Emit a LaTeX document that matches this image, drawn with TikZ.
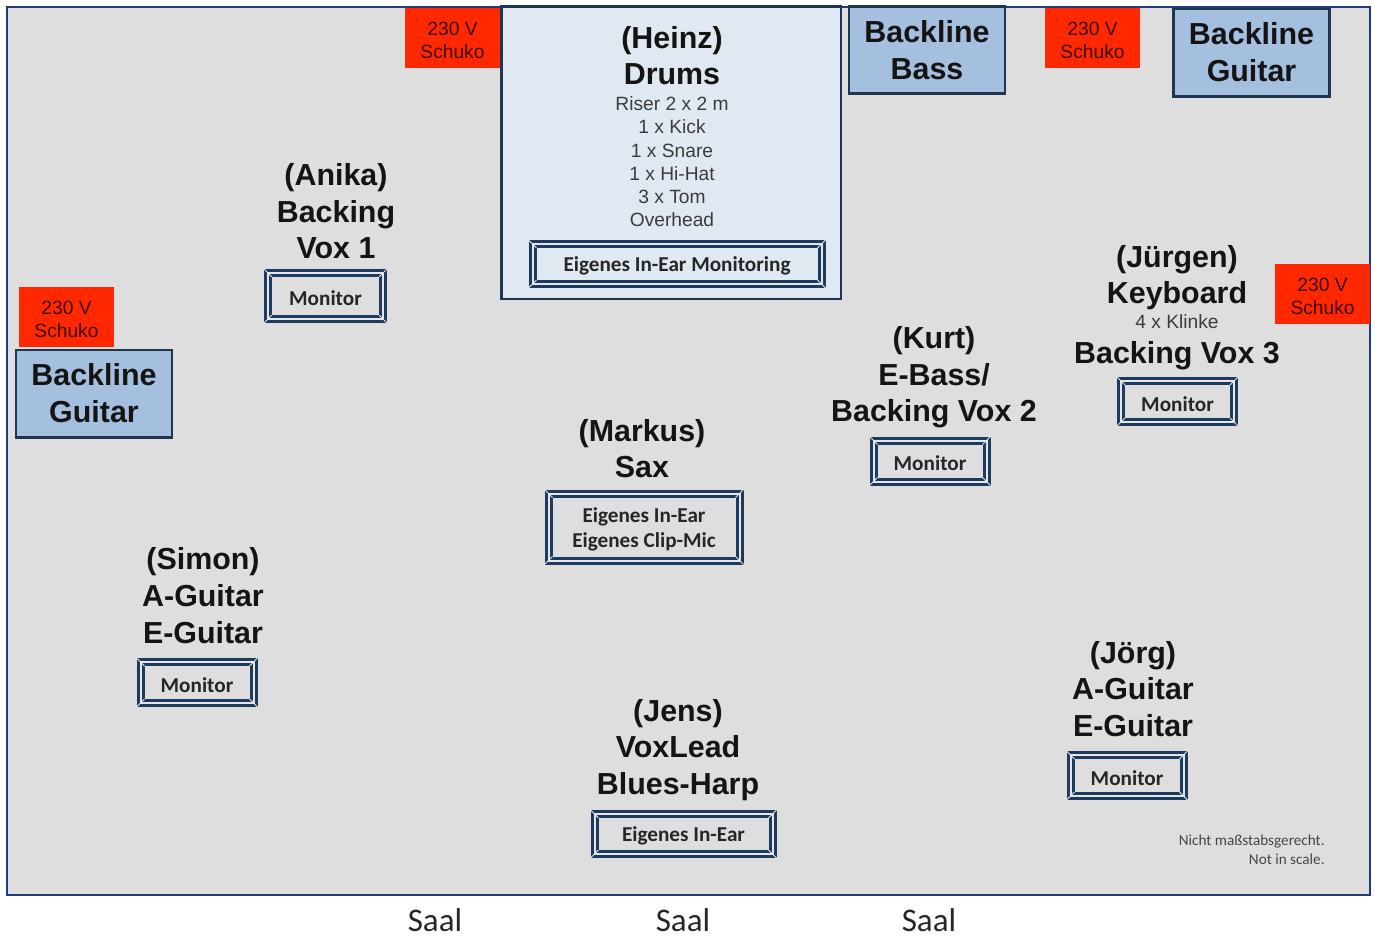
\documentclass[tikz,border=0pt]{standalone}
\usepackage{fontspec}
\setmainfont{Liberation Sans}
\newfontfamily\calfont{Carlito}
\usetikzlibrary{calc}
\definecolor{stagefill}{HTML}{DEDEDE}
\definecolor{stageline}{HTML}{1F3C78}
\definecolor{drumfill}{HTML}{E0E8F1}
\definecolor{navy}{HTML}{1F3550}
\definecolor{blfill}{HTML}{A5BFDF}
\definecolor{monline}{HTML}{1E3A5C}
\definecolor{monlight}{HTML}{E4E6EA}
\definecolor{schukored}{HTML}{FF2800}
\definecolor{schukotext}{HTML}{3A0800}
\definecolor{smallgray}{HTML}{3C3C3C}
\definecolor{notegray}{HTML}{454545}
\tikzset{
  big/.style={anchor=base, inner sep=0, font=\bfseries\fontsize{15.2}{18}\selectfont, text=black!92},
  small/.style={anchor=base, inner sep=0, font=\fontsize{9.6}{11.5}\selectfont, text=smallgray},
  schuko/.style={fill=schukored, draw=none, inner sep=0, align=center,
    minimum width=47.5pt, minimum height=30pt, text height=20.4pt,
    font=\fontsize{9.6}{11.5}\selectfont, text=schukotext},
  backline/.style={fill=blfill, draw=navy, line width=1.4pt, inner sep=0, align=center,
    minimum width=78pt, minimum height=43.6pt,
    font=\bfseries\fontsize{15.2}{18.5}\selectfont, text=black!92},
  drumbox/.style={fill=drumfill, draw=navy, line width=1.25pt, inner sep=0},
  monitor/.style={draw=monline, line width=1.5pt, double=monlight, double distance=1pt,
    inner sep=0, outer sep=0, align=center, text height=9.6pt,
    font=\calfont\bfseries\fontsize{10.6}{12.5}\selectfont, text=black!85},
  bevel/.style={draw=monlight, line width=0.4pt},
  saal/.style={anchor=base, inner sep=0, font=\calfont\fontsize{16.5}{19}\selectfont, text=black!85},
  note/.style={anchor=base east, inner sep=0, font=\calfont\fontsize{7.6}{9}\selectfont, text=notegray}
}
\newcommand\monbox[7][]{%
  \node[monitor, #1, minimum width={(#5-8)*0.5pt}, minimum height={(#6-8)*0.5pt}] (#2) at (#3,#4) {#7};
  \draw[bevel] ($(#2.north west)+(-4,-4)$) -- ($(#2.north west)+(4,4)$);
  \draw[bevel] ($(#2.north east)+(4,-4)$) -- ($(#2.north east)+(-4,4)$);
  \draw[bevel] ($(#2.south west)+(-4,4)$) -- ($(#2.south west)+(4,-4)$);
  \draw[bevel] ($(#2.south east)+(4,4)$) -- ($(#2.south east)+(-4,-4)$);
}
\begin{document}
\begin{tikzpicture}[x=0.5pt, y=-0.5pt]
\useasboundingbox (0,0) rectangle (1375,937);
% stage
\draw[fill=stagefill, draw=stageline, line width=1.25pt] (7,7) rectangle (1370,895);

% drums riser
\node[drumbox, minimum width=169.75pt, minimum height=146.25pt] (drums) at (671,152.5) {};
\node[big] (heinz1) at (672,48) {(Heinz)};
\node[big] (heinz2) at (672,84) {Drums};
\node[small] (heinz3) at (672,110.5) {Riser 2 x 2 m};
\node[small] (heinz4) at (672,133.5) {1 x Kick};
\node[small] (heinz5) at (672,157.5) {1 x Snare};
\node[small] (heinz6) at (672,180.5) {1 x Hi-Hat};
\node[small] (heinz7) at (672,203.5) {3 x Tom};
\node[small] (heinz8) at (672,226.5) {Overhead};
\monbox{mdrums}{677}{264}{297}{48}{Eigenes In-Ear Monitoring}

% power outlets
\node[schuko] (s1) at (452.5,38) {230 V\\Schuko};
\node[schuko] (s2) at (1092.5,38) {230 V\\Schuko};
\node[schuko] (s3) at (66.5,317) {230 V\\Schuko};
\node[schuko] (s4) at (1322.5,294) {230 V\\Schuko};

% backline
\node[backline] (blbass) at (927,50) {Backline\\Bass};
\node[backline] (blgtr1) at (1251.5,52.5) {Backline\\Guitar};
\node[backline] (blgtr2) at (94,393.5) {Backline\\Guitar};

% Anika
\node[big] (anika1) at (336,185) {(Anika)};
\node[big] (anika2) at (336,222) {Backing};
\node[big] (anika3) at (336,258) {Vox 1};
\monbox{manika}{325.5}{296}{123}{54}{Monitor}

% Markus
\node[big] (markus1) at (642,441) {(Markus)};
\node[big] (markus2) at (642,477) {Sax};
\monbox[text height=22.7pt]{mmarkus}{644}{527}{199}{75}{Eigenes In-Ear\\Eigenes Clip-Mic}

% Kurt
\node[big] (kurt1) at (934,348) {(Kurt)};
\node[big] (kurt2) at (934,385) {E-Bass/};
\node[big] (kurt3) at (934,421) {Backing Vox 2};
\monbox{mkurt}{930}{461}{121}{49}{Monitor}

% Juergen
\node[big] (juergen1) at (1177,267) {(Jürgen)};
\node[big] (juergen2) at (1177,303) {Keyboard};
\node[small] (juergen3) at (1177,328.5) {4 x Klinke};
\node[big] (juergen4) at (1177,363) {Backing Vox 3};
\monbox{mjuergen}{1177.5}{401.5}{121}{49}{Monitor}

% Simon
\node[big] (simon1) at (203,569) {(Simon)};
\node[big] (simon2) at (203,606) {A-Guitar};
\node[big] (simon3) at (203,643) {E-Guitar};
\monbox{msimon}{197}{682.5}{121}{49}{Monitor}

% Jens
\node[big] (jens1) at (678,721) {(Jens)};
\node[big] (jens2) at (678,757) {VoxLead};
\node[big] (jens3) at (678,794) {Blues-Harp};
\monbox{mjens}{683.5}{834}{186}{48}{Eigenes In-Ear}

% Joerg
\node[big] (joerg1) at (1133,663) {(Jörg)};
\node[big] (joerg2) at (1133,699) {A-Guitar};
\node[big] (joerg3) at (1133,736) {E-Guitar};
\monbox{mjoerg}{1127}{775.5}{121}{49}{Monitor}

% notes
\node[note] (note1) at (1325,845) {Nicht maßstabsgerecht.};
\node[note] (note2) at (1325,864) {Not in scale.};

% audience
\node[saal] (saal1) at (435,931) {Saal};
\node[saal] (saal2) at (683,931) {Saal};
\node[saal] (saal3) at (929,931) {Saal};
\end{tikzpicture}
\end{document}
